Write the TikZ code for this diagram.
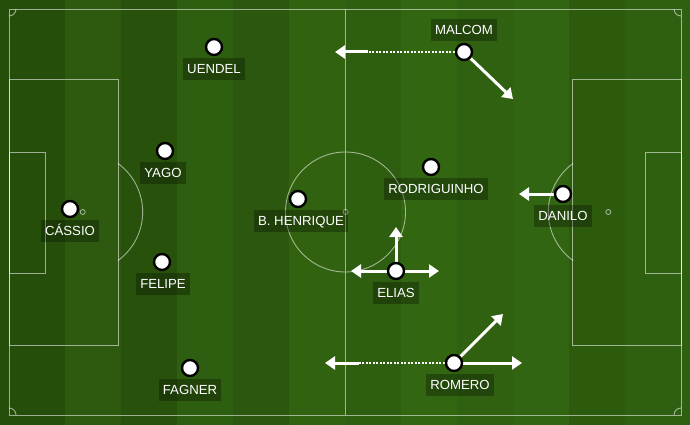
\documentclass[tikz,border=0pt]{standalone}
\usepackage{fontspec}
\setmainfont{Liberation Sans}
\usetikzlibrary{positioning,arrows.meta,backgrounds}

\definecolor{pitchdark}{RGB}{38,78,11}
\definecolor{pitchlight}{RGB}{44,89,14}
\definecolor{pitchglow}{RGB}{58,116,21}

\begin{document}
\begin{tikzpicture}[x=1pt,y=-1pt]

    % Styles
    \tikzset{
        pitch line/.style={draw=white, draw opacity=0.55, line width=0.9pt},
        player/.style={circle, draw=black, fill=white, line width=2.4pt, minimum size=16pt, inner sep=0pt},
        tag/.style={fill=black, fill opacity=0.28, text opacity=1, text=white,
            font=\fontsize{13.2}{15}\selectfont, inner xsep=4pt, inner ysep=6.1pt,
            text height=9.4pt, text depth=0pt},
        move/.style={draw=white, line width=3pt, -{Triangle[length=10pt,width=13pt]}},
        run/.style={draw=white, line width=2pt, dash pattern=on 2pt off 1.5pt}
    }

    \useasboundingbox (0,0) rectangle (690,425);

    % Pitch
    \begin{scope}[on background layer]
        \fill[pitchdark] (0,0) rectangle (690,425);
        \foreach \i/\p in {0/0,1/4,2/10,3/18,4/26,5/34,6/42,7/48,8/50,9/44,10/34,11/24}{
            \ifodd\i \colorlet{stripe}{pitchglow!\p!pitchlight}\else \colorlet{stripe}{pitchglow!\p!pitchdark}\fi
            \fill[stripe] ({9+56*\i},0) rectangle ({65+56*\i},425);
        }
        \fill[pitchglow!24!pitchlight] (681,0) rectangle (690,425);

        \draw[pitch line] (9,9) rectangle (681,415);
        \draw[pitch line] (345.5,9) -- (345.5,415);
        \draw[pitch line] (345.5,212) circle[radius=60];
        \draw[pitch line] (345.5,212) circle[radius=2.5];
        % boxes
        \draw[pitch line] (9,79.5) rectangle (118,345);
        \draw[pitch line] (9,152) rectangle (45,273);
        \draw[pitch line] (572,79.5) rectangle (681,345);
        \draw[pitch line] (645,152) rectangle (681,273);
        % spots and arcs
        \draw[pitch line] (82.7,212) circle[radius=2.5];
        \draw[pitch line] (608.3,212) circle[radius=2.5];
        \draw[pitch line] (82.7,212) ++(-54:60) arc[start angle=-54, end angle=54, radius=60];
        \draw[pitch line] (608.3,212) ++(126:60) arc[start angle=126, end angle=234, radius=60];
        % corners
        \draw[pitch line] (16,9) arc[start angle=0, end angle=90, radius=7];
        \draw[pitch line] (674,9) arc[start angle=180, end angle=90, radius=7];
        \draw[pitch line] (16,415) arc[start angle=0, end angle=-90, radius=7];
        \draw[pitch line] (674,415) arc[start angle=180, end angle=270, radius=7];
    \end{scope}

    % Players
    \node[player] (malcom) at (464,52) {};
    \node[player] (uendel) at (214,47) {};
    \node[player] (yago) at (165,151) {};
    \node[player] (cassio) at (70,209) {};
    \node[player] (felipe) at (162,262) {};
    \node[player] (fagner) at (190,368) {};
    \node[player] (bhenrique) at (298,199) {};
    \node[player] (rodriguinho) at (431,167) {};
    \node[player] (danilo) at (563,194) {};
    \node[player] (elias) at (396,271) {};
    \node[player] (romero) at (454,363) {};

    % Arrow ends
    \coordinate (malcomrun) at (368,52);
    \coordinate (malcomend) at (335,52);
    \coordinate (malcomcut) at (513,99);
    \coordinate (daniloend) at (519,194);
    \coordinate (eliasup) at (396,227);
    \coordinate (eliasleft) at (351,271);
    \coordinate (eliasright) at (439,271);
    \coordinate (romerorun) at (359,363);
    \coordinate (romeroend) at (325,363);
    \coordinate (romeroright) at (522,363);
    \coordinate (romerocut) at (503,314);

    % Moves
    \begin{scope}[on background layer]
        \draw[run] (malcom) -- (malcomrun);
        \draw[move] (malcomrun) -- (malcomend);
        \draw[move] (malcom) -- (malcomcut);
        \draw[move] (danilo) -- (daniloend);
        \draw[move] (elias) -- (eliasup);
        \draw[move] (elias) -- (eliasleft);
        \draw[move] (elias) -- (eliasright);
        \draw[run] (romero) -- (romerorun);
        \draw[move] (romerorun) -- (romeroend);
        \draw[move] (romero) -- (romeroright);
        \draw[move] (romero) -- (romerocut);
    \end{scope}

    % Names
    \node[tag, above=2pt of malcom] (malcomtag) {MALCOM};
    \node[tag, below=2pt of uendel] (uendeltag) {UENDEL};
    \node[tag, below=2pt of yago, xshift=-2pt] (yagotag) {YAGO};
    \node[tag, below=2pt of cassio] (cassiotag) {CÁSSIO};
    \node[tag, below=2pt of felipe, xshift=1pt] (felipetag) {FELIPE};
    \node[tag, below=2pt of fagner] (fagnertag) {FAGNER};
    \node[tag, below=2pt of bhenrique, xshift=3pt] (bhenriquetag) {B. HENRIQUE};
    \node[tag, below=2pt of rodriguinho, xshift=5pt] (rodriguinhotag) {RODRIGUINHO};
    \node[tag, below=2pt of danilo] (danilotag) {DANILO};
    \node[tag, below=2pt of elias] (eliastag) {ELIAS};
    \node[tag, below=2pt of romero, xshift=6pt] (romerotag) {ROMERO};
\end{tikzpicture}
\end{document}
